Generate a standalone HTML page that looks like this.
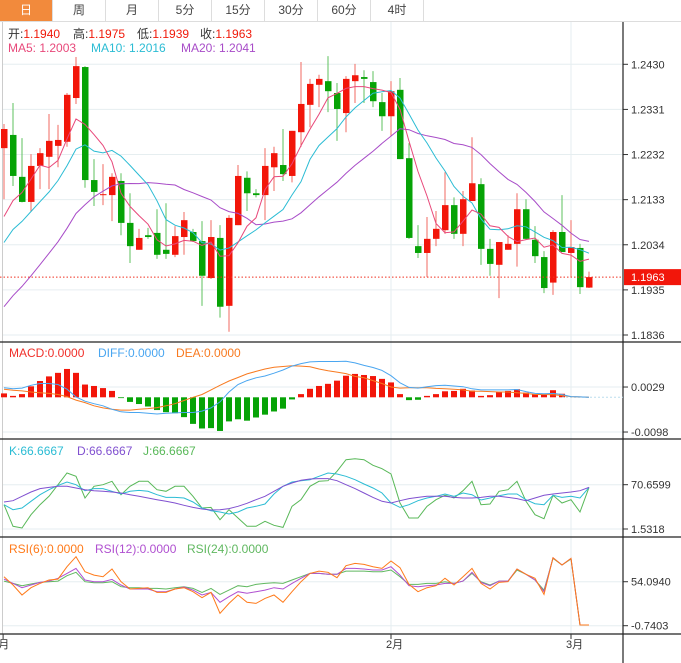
<!DOCTYPE html>
<html><head><meta charset="utf-8">
<style>
html,body{margin:0;padding:0;background:#fff;width:681px;height:663px;overflow:hidden;font-family:"Liberation Sans","Noto Sans CJK SC",sans-serif;}
#tabs{position:absolute;left:0;top:0;width:681px;height:21px;border-bottom:1px solid #ddd;}
.tab{position:absolute;top:0;height:21px;width:53px;text-align:center;line-height:20px;font-size:12px;color:#444;border-right:1px solid #ddd;box-sizing:border-box;}
.tab.on{background:#f28a3c;color:#fff;}
svg{position:absolute;left:0;top:0;}
</style></head><body>
<div id="tabs">
<div class="tab on" style="left:0">日</div>
<div class="tab" style="left:53px">周</div>
<div class="tab" style="left:106px">月</div>
<div class="tab" style="left:159px">5分</div>
<div class="tab" style="left:212px">15分</div>
<div class="tab" style="left:265px">30分</div>
<div class="tab" style="left:318px">60分</div>
<div class="tab" style="left:371px">4时</div>
</div>
<svg id="chart" width="681" height="663" style="top:0">
<g font-size="12">
<text x="8" y="38" fill="#333">开:<tspan fill="#f01a0a">1.1940</tspan></text>
<text x="73" y="38" fill="#333">高:<tspan fill="#f01a0a">1.1975</tspan></text>
<text x="137" y="38" fill="#333">低:<tspan fill="#f01a0a">1.1939</tspan></text>
<text x="200" y="38" fill="#333">收:<tspan fill="#f01a0a">1.1963</tspan></text>
<text x="8" y="52" fill="#e8487a">MA5: 1.2003</text>
<text x="91" y="52" fill="#2bbcd4">MA10: 1.2016</text>
<text x="181" y="52" fill="#a84cc8">MA20: 1.2041</text>
</g>
<g font-size="12">
<text x="9" y="357" fill="#f0302a">MACD:0.0000</text>
<text x="98" y="357" fill="#4aa6f0">DIFF:0.0000</text>
<text x="176" y="357" fill="#f87a20">DEA:0.0000</text>
</g>
<g font-size="12">
<text x="9" y="455" fill="#2bbcd4">K:66.6667</text>
<text x="77" y="455" fill="#8050d0">D:66.6667</text>
<text x="143" y="455" fill="#58b858">J:66.6667</text>
</g>
<g font-size="12">
<text x="9" y="553" fill="#ff7a1a">RSI(6):0.0000</text>
<text x="95" y="553" fill="#b050d0">RSI(12):0.0000</text>
<text x="187" y="553" fill="#60b860">RSI(24):0.0000</text>
</g>
</svg>
<script>
const opens=[1.2246,1.2275,1.2183,1.2128,1.2207,1.2227,1.2251,1.2260,1.2356,1.2424,1.2176,1.2143,1.2143,1.2174,1.2082,1.2023,1.2055,1.2060,1.2023,1.2012,1.2051,1.2062,1.2042,1.1961,1.2049,1.1900,1.2077,1.2181,1.2147,1.2143,1.2204,1.2209,1.2185,1.2281,1.2341,1.2385,1.2393,1.2367,1.2323,1.2393,1.2402,1.2391,1.2347,1.2316,1.2374,1.2224,1.2031,1.2016,1.2047,1.2066,1.2121,1.2058,1.2130,1.2167,1.2025,1.1990,1.2023,1.2036,1.2112,1.2045,1.2007,1.1951,1.2062,1.2016,1.2027,1.1940];
const highs=[1.2299,1.2345,1.2268,1.2233,1.2246,1.2321,1.2297,1.2367,1.2446,1.2426,1.2222,1.2211,1.2191,1.2191,1.2147,1.2069,1.2071,1.2112,1.2125,1.2075,1.2106,1.2069,1.2086,1.2088,1.2077,1.2099,1.2209,1.2195,1.2156,1.2246,1.2249,1.2288,1.2284,1.2435,1.2398,1.2407,1.2448,1.2389,1.2404,1.2431,1.2417,1.2415,1.2367,1.2393,1.2400,1.2257,1.2077,1.2095,1.2108,1.2193,1.2138,1.2152,1.2270,1.2180,1.2047,1.2040,1.2055,1.2147,1.2134,1.2075,1.2020,1.2066,1.2143,1.2088,1.2036,1.1975];
const lows=[1.2134,1.2163,1.2127,1.2106,1.2156,1.2156,1.2204,1.2249,1.2343,1.2159,1.2119,1.2121,1.2086,1.2055,1.1994,1.2023,1.2047,1.2003,1.2003,1.2007,1.2012,1.2040,1.1900,1.1959,1.1874,1.1843,1.2077,1.2108,1.2138,1.2088,1.2152,1.2174,1.2171,1.2249,1.2292,1.2336,1.2325,1.2262,1.2281,1.2345,1.2345,1.2336,1.2284,1.2273,1.2222,1.2047,1.2005,1.1963,1.2031,1.2058,1.2047,1.2031,1.2130,1.1990,1.1966,1.1917,1.2023,1.1986,1.2045,1.1994,1.1928,1.1924,1.2018,1.1963,1.1926,1.1939];
const closes=[1.2288,1.2185,1.2128,1.2207,1.2235,1.2262,1.2264,1.2363,1.2426,1.2176,1.2150,1.2145,1.2183,1.2082,1.2031,1.2049,1.2051,1.2012,1.2014,1.2053,1.2088,1.2042,1.1966,1.2051,1.1898,1.2093,1.2185,1.2147,1.2143,1.2207,1.2235,1.2189,1.2284,1.2343,1.2387,1.2398,1.2371,1.2332,1.2398,1.2406,1.2398,1.2349,1.2316,1.2371,1.2222,1.2049,1.2016,1.2047,1.2069,1.2121,1.2058,1.2134,1.2169,1.2025,1.1992,1.2040,1.2036,1.2112,1.2047,1.2009,1.1939,1.2062,1.2018,1.2029,1.1941,1.1963];
const priorCloses=[1.170,1.172,1.174,1.175,1.176,1.176,1.177,1.178,1.179,1.180,1.190,1.195,1.199,1.202,1.205,1.201,1.204,1.206,1.2082];
const priceTicks=["1.2430","1.2331","1.2232","1.2133","1.2034","1.1935","1.1836"];
const lastPrice=1.1963;
const macdBars=[0.0011,0.0004,0.0009,0.0031,0.0046,0.0059,0.0069,0.0080,0.0069,0.0036,0.0032,0.0026,0.0018,-0.0002,-0.0013,-0.0019,-0.0026,-0.0036,-0.0042,-0.0045,-0.0056,-0.0075,-0.0088,-0.0087,-0.0095,-0.0068,-0.0062,-0.0066,-0.0057,-0.0049,-0.0040,-0.0032,-0.0006,0.0009,0.0024,0.0032,0.0038,0.0047,0.0061,0.0066,0.0063,0.0060,0.0052,0.0042,0.0009,-0.0008,-0.0007,0.0004,0.0009,0.0017,0.0018,0.0024,0.0019,0.0004,0.0006,0.0015,0.0018,0.0023,0.0013,0.0009,0.0007,0.0020,0.0010,0,0,0];
const difValues=[0.0027,0.0024,0.0026,0.0034,0.0039,0.0039,0.0036,0.0023,0.0001,-0.0011,-0.0018,-0.0024,-0.0034,-0.0041,-0.0043,-0.0043,-0.0045,-0.0047,-0.0045,-0.0044,-0.0043,-0.0043,-0.0039,-0.0030,-0.0013,0.0015,0.0036,0.0047,0.0055,0.0060,0.0068,0.0077,0.0088,0.0095,0.0100,0.0101,0.0101,0.0101,0.0102,0.0097,0.0090,0.0084,0.0076,0.0061,0.0041,0.0028,0.0026,0.0030,0.0033,0.0034,0.0032,0.0030,0.0024,0.0021,0.0021,0.0021,0.0021,0.0022,0.0016,0.0011,0.0010,0.0011,0.0008,0.0002,0.0001,0];
const deaValues=[0.0023,0.0020,0.0018,0.0015,0.0013,0.0011,0.0008,0.0002,-0.0008,-0.0015,-0.0024,-0.0030,-0.0034,-0.0036,-0.0036,-0.0034,-0.0032,-0.0029,-0.0024,-0.0018,-0.0009,0.0000,0.0008,0.0021,0.0034,0.0046,0.0056,0.0066,0.0073,0.0080,0.0085,0.0087,0.0089,0.0088,0.0086,0.0080,0.0075,0.0071,0.0067,0.0059,0.0055,0.0047,0.0039,0.0029,0.0026,0.0027,0.0027,0.0027,0.0025,0.0024,0.0023,0.0021,0.0017,0.0017,0.0016,0.0015,0.0015,0.0013,0.0011,0.0008,0.0008,0.0007,0.0005,0.0002,0.0001,0];
const macdTicks=["0.0029","-0.0098"];
const kValues=[39.5,31.7,34.3,44.7,55.1,62.9,69.6,74.9,70.7,61.3,64.5,64.5,60.3,56.1,60.3,61.8,60.3,55.1,50.9,50.9,49.9,43.7,34.3,30.1,28.1,24.9,28.1,34.3,36.9,40.5,56.1,68.1,74.9,76.9,78.5,83.7,88.9,87.3,83.7,78.5,71.7,65.5,57.7,42.1,35.3,39.5,45.7,49.9,52.5,56.1,52.5,57.7,55.1,46.8,49.9,53.5,56.1,56.1,47.3,41.0,39.5,54.1,50.9,52.5,49.9,66.5];
const dValues=[43.7,45.7,52.5,59.3,64.5,66.5,68.1,68.1,65.5,62.9,61.3,60.3,59.3,57.7,55.1,52.5,49.9,47.3,44.7,42.1,38.5,35.3,32.7,31.2,31.7,33.3,36.9,41.6,47.3,52.5,60.3,68.1,73.3,77.5,79.5,80.1,80.1,76.9,70.7,64.5,57.7,50.9,44.7,42.1,45.7,48.9,50.9,52.5,52.5,52.5,50.9,49.9,49.9,50.9,52.5,52.5,50.9,48.9,45.7,49.9,54.1,56.1,57.7,59.3,61.3,66.5];
const jValues=[39.5,5.7,3.1,23.9,39.5,52.5,70.7,88.9,83.7,49.9,68.1,70.7,75.9,55.1,68.1,75.9,75.9,62.9,60.3,68.1,68.1,52.5,34.3,35.3,16.1,31.7,18.7,5.7,5.7,13.5,7.3,4.1,36.9,47.3,68.1,75.9,76.9,91.5,109.7,111.2,109.7,100.9,95.6,87.3,42.1,18.7,18.7,36.9,47.3,54.1,49.9,61.3,75.9,39.5,40.5,60.3,62.9,75.9,44.7,23.9,17.6,54.1,42.1,47.3,28.1,66.5];
const kdjTicks=["70.6599","1.5318"];
const rsi6Values=[60.4,50.0,37.5,46.6,52.0,56.2,57.4,72.8,85.3,66.6,62.4,60.4,69.9,54.1,45.0,45.8,46.6,40.8,40.8,45.0,46.6,41.6,34.2,40.8,14.7,27.1,37.5,28.4,27.1,33.3,37.5,28.4,41.6,54.1,64.5,67.4,65.8,59.1,74.1,77.0,75.7,72.8,70.7,79.9,71.6,50.8,41.6,46.6,49.1,58.3,50.0,60.4,70.7,52.0,45.0,53.3,54.1,69.9,63.3,58.3,38.3,84.0,74.9,83.2,0.1,0.1];
const rsi12Values=[57.4,52.0,46.6,50.0,53.3,54.9,58.3,64.5,70.7,56.2,54.1,54.1,57.0,50.0,45.0,45.0,45.0,41.6,41.6,45.0,47.5,43.7,37.5,40.8,28.4,35.4,41.6,39.6,41.6,43.7,46.6,45.0,52.0,58.3,64.5,64.5,63.3,63.3,70.7,70.7,69.9,68.7,68.7,72.8,62.4,49.1,47.9,49.1,50.0,52.0,52.0,54.9,65.8,53.3,49.1,54.9,54.9,69.9,63.3,56.2,41.6,84.0,74.9,83.2,0.1,0.1];
const rsi24Values=[54.9,52.0,49.1,51.2,53.3,54.1,54.9,61.6,65.8,54.1,52.9,52.9,54.1,47.9,46.6,46.6,45.8,45.8,45.0,46.6,47.9,45.8,40.8,45.8,38.3,43.7,49.1,47.9,50.8,52.0,52.9,52.0,56.2,60.4,64.5,64.5,63.3,63.3,67.4,67.4,67.4,66.6,66.6,68.7,60.4,50.8,50.8,52.0,52.0,54.1,52.0,54.9,64.5,54.1,50.0,54.9,54.9,68.7,63.3,56.2,43.7,83.2,74.9,82.4,0.1,0.1];
const rsiTicks=["54.0940","-0.7403"];
const monthLabels=["1月","2月","3月"];
const monthIndex=[-0.1,43.0,63.0];

const NS="http://www.w3.org/2000/svg";
const svg=document.getElementById('chart');
function el(tag,attrs,parent){const e=document.createElementNS(NS,tag);for(const k in attrs)e.setAttribute(k,attrs[k]);(parent||svg).appendChild(e);return e;}
const AX=623;
function xOf(i){return 4+9*i;}
function yPrice(p){return 64.3+(1.2430-p)/0.0594*270.7;}
function yMacd(v){return 397.3-v*3543;}
function yKdj(v){return 529-(v-1.5318)*0.641;}
function yRsi(v){return 625.7-(v+0.7403)*0.802;}
const RED="#f2160a",GREEN="#06a306";

const grid=el('g',{});


[391,571].forEach(x=>{el('line',{x1:x,x2:x,y1:22,y2:634,stroke:'#e6eef0','stroke-width':1},grid);});
el('line',{x1:2.5,x2:2.5,y1:22,y2:634,stroke:'#ccc'},grid);
function hTicks(labels,yfn,name){
  const g=el('g',{});
  
  
  labels.forEach(t=>{const y=yfn(parseFloat(t));
    el('line',{x1:3,x2:AX,y1:y,y2:y,stroke:'#e6eef0'},g);
    el('line',{x1:AX,x2:AX+5,y1:y,y2:y,stroke:'#333'},g);
    const tx=el('text',{x:AX+8,y:y+4,'font-size':11,fill:'#333'},g);tx.textContent=t;});
}
hTicks(priceTicks,yPrice,'price-axis');
hTicks(macdTicks,yMacd,'macd-axis');
hTicks(kdjTicks,yKdj,'kdj-axis');
hTicks(rsiTicks,yRsi,'rsi-axis');
[342,439,537,634].forEach(y=>{const l=el('line',{x1:0,x2:681,y1:y,y2:y,stroke:'#222','stroke-width':1.2});

});
const axl=el('line',{x1:AX,x2:AX,y1:22,y2:663,stroke:'#222','stroke-width':1.2});



monthLabels.forEach((m,k)=>{const x=xOf(monthIndex[k]);
  const t=el('text',{x:k===0?x-11:x-5,y:648,'font-size':11,fill:'#333'});t.textContent=m;
  
  
  el('line',{x1:x,x2:x,y1:634,y2:639,stroke:'#333'});});

closes.forEach((c,i)=>{const o=opens[i],up=c>=o,col=up?RED:GREEN,x=xOf(i);
  const g=el('g',{});
  
  
  el('line',{x1:x,x2:x,y1:yPrice(highs[i]),y2:yPrice(lows[i]),stroke:up?'#f26a60':'#5cc25c','stroke-width':1},g);
  const top=yPrice(Math.max(o,c)),bot=yPrice(Math.min(o,c));
  el('rect',{x:x-3,y:top,width:6.5,height:Math.max(1,bot-top),fill:col},g);});

const all=priorCloses.concat(closes);
function ma(n){return closes.map((_,i)=>{const j=i+priorCloses.length;let s=0;for(let k=j-n+1;k<=j;k++)s+=all[k];return s/n;});}
function poly(vals,yfn,col,name,w){const pts=vals.map((v,i)=>xOf(i)+','+yfn(v).toFixed(1)).join(' ');
  const p=el('polyline',{points:pts,fill:'none',stroke:col,'stroke-width':w||1});
  
  return p;}
poly(ma(20),yPrice,'#a84cc8','ma20-line');
poly(ma(10),yPrice,'#2bbcd4','ma10-line');
poly(ma(5),yPrice,'#e8487a','ma5-line');

const ly=yPrice(lastPrice);
const pl=el('line',{x1:0,x2:AX,y1:ly,y2:ly,stroke:'#f03020','stroke-dasharray':'1.5,2'});


const pr=el('rect',{x:AX+1,y:ly-8,width:58,height:16,fill:RED});


const pt=el('text',{x:AX+8,y:ly+4,'font-size':11,fill:'#fff'});pt.textContent=lastPrice.toFixed(4);

const zero=yMacd(0);
macdBars.forEach((v,i)=>{if(v===0)return;const y=yMacd(v);
  const r=el('rect',{x:xOf(i)-3,y:Math.min(y,zero),width:6,height:Math.max(0.8,Math.abs(y-zero)),fill:v>0?RED:GREEN});
  
  });
el('line',{x1:xOf(62),x2:AX,y1:zero,y2:zero,stroke:'#bde',"stroke-dasharray":"2,2"});
poly(deaValues,yMacd,'#f87a20','dea-line');
poly(difValues,yMacd,'#4aa6f0','dif-line');

poly(jValues,yKdj,'#58b858','j-line');
poly(kValues,yKdj,'#2bbcd4','k-line');
poly(dValues,yKdj,'#8050d0','d-line');

poly(rsi24Values,yRsi,'#60b860','rsi24-line');
poly(rsi12Values,yRsi,'#b050d0','rsi12-line');
poly(rsi6Values,yRsi,'#ff7a1a','rsi6-line');
</script>
</body></html>
